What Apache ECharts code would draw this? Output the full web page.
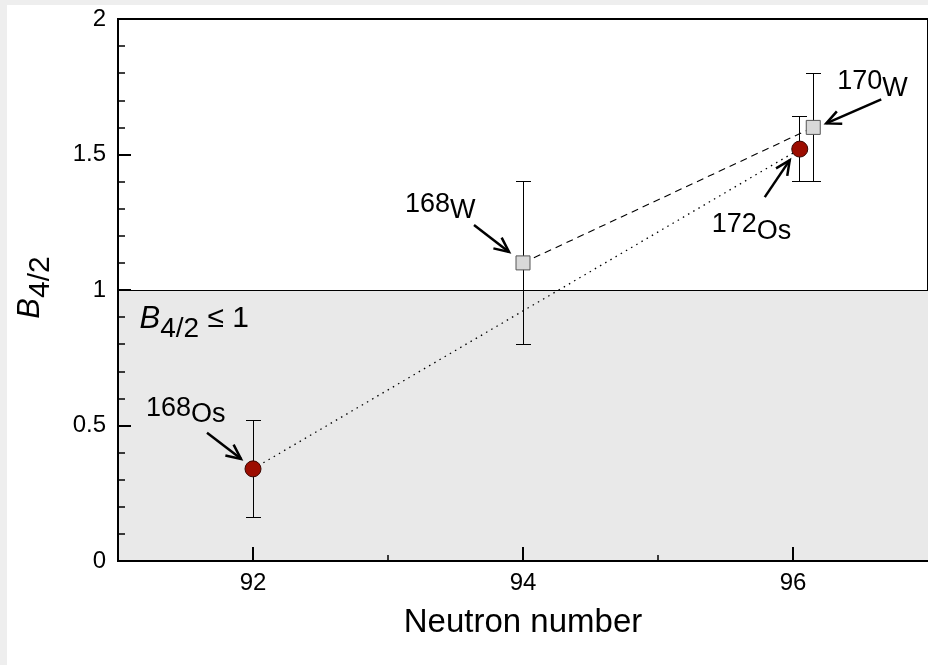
<!DOCTYPE html>
<html>
<head>
<meta charset="utf-8">
<script src="https://cdn.jsdelivr.net/npm/echarts@6/dist/echarts.min.js"></script>
<style>
html, body { margin: 0; padding: 0; background: #eeeeee; width: 928px; height: 665px; overflow: hidden; }
#chart { position: absolute; left: 7px; top: 5px; width: 921px; height: 660px; background: #ffffff; }
</style>
</head>
<body>
<div id="chart"></div>
<script>
// ---- data ----
const osN = [92, 96.05];
const osB = [0.34, 1.52];
const osErrLo = [0.16, 1.40];
const osErrHi = [0.52, 1.64];
const osMass = ['168', '172'];

const wN = [94, 96.15];
const wB = [1.10, 1.60];
const wErrLo = [0.80, 1.40];
const wErrHi = [1.40, 1.80];
const wMass = ['168', '170'];

const xRange = [91, 97];
const yRange = [0, 2];
const xTickValues = [92, 94, 96];
const xMinorValues = [93, 95];
const bandRange = [0, 1];

// ---- build ----
const FONT = '"Liberation Sans", Arial, Helvetica, sans-serif';
const osPts = osN.map((x, i) => [x, osB[i]]);
const wPts = wN.map((x, i) => [x, wB[i]]);
const errRows = osN.map((x, i) => [x, osErrLo[i], osErrHi[i]])
  .concat(wN.map((x, i) => [x, wErrLo[i], wErrHi[i]]));
const bandRows = [[xRange[0], bandRange[0], xRange[1], bandRange[1]]];

const labels = osMass.map(m => ({ mass: m, sym: 'Os' })).concat(wMass.map(m => ({ mass: m, sym: 'W' })));
const annRows = osPts.concat(wPts).map((p, k) => [p[0], p[1], k]);
// pixel offsets (style): text baseline-left, arrow tail, arrow head relative to marker
const annLayout = [
  { text: [-107, -45], tail: [-46, -36], head: [-12, -10] },  // 168Os
  { text: [-88, 91], tail: [-35, 48], head: [-10, 11] },      // 172Os
  { text: [-118, -43], tail: [-49, -38], head: [-14, -11] },  // 168W
  { text: [24, -30], tail: [68, -28], head: [13, -4] }        // 170W
];

const crisp = v => Math.round(v - 0.5) + 0.5;

const chart = echarts.init(document.getElementById('chart'), null, { renderer: 'canvas' });

const option = {
  animation: false,
  backgroundColor: '#ffffff',
  grid: {
    left: 111, top: 14, right: -1.5, bottom: 104,
    show: true, borderColor: '#000', borderWidth: 2, backgroundColor: 'transparent'
  },
  xAxis: [
    {
      type: 'value', min: xRange[0], max: xRange[1], position: 'bottom', z: 5,
      axisLine: { show: true, lineStyle: { color: '#000', width: 2 } },
      axisTick: { show: true, inside: true, length: 14, customValues: xTickValues, lineStyle: { color: '#000', width: 2 } },
      axisLabel: { show: true, customValues: xTickValues, fontSize: 24, color: '#000', fontFamily: FONT, margin: 10 },
      splitLine: { show: false },
      name: 'Neutron number', nameLocation: 'middle', nameGap: 45,
      nameTextStyle: { fontSize: 33, color: '#000', fontFamily: FONT }
    },
    {
      type: 'value', min: xRange[0], max: xRange[1], position: 'bottom', z: 5,
      axisLine: { show: false },
      axisTick: { show: true, inside: true, length: 6, customValues: xMinorValues, lineStyle: { color: '#000', width: 1.5 } },
      axisLabel: { show: false },
      splitLine: { show: false }
    }
  ],
  yAxis: {
    type: 'value', min: yRange[0], max: yRange[1], interval: 0.5, z: 5,
    axisLine: { show: true, lineStyle: { color: '#000', width: 2 } },
    axisTick: { show: true, inside: true, length: 13, lineStyle: { color: '#000', width: 2 } },
    minorTick: { show: true, splitNumber: 5, length: 7, lineStyle: { color: '#000', width: 1.5 } },
    axisLabel: { fontSize: 24, color: '#000', fontFamily: FONT, margin: 12 },
    splitLine: { show: false },
    minorSplitLine: { show: false },
    name: '{b|B}{s|4/2}', nameLocation: 'middle', nameGap: 51,
    nameTextStyle: {
      color: '#000',
      padding: [0, 0, 0, 5],
      rich: {
        b: { fontSize: 31, fontStyle: 'italic', fontFamily: FONT, lineHeight: 20, verticalAlign: 'top', color: '#000' },
        s: { fontSize: 30, fontFamily: FONT, lineHeight: 52, color: '#000' }
      }
    }
  },
  series: [
    {
      type: 'custom', xAxisIndex: 0, z: 1, silent: true,
      data: bandRows,
      encode: { x: [0, 2], y: [1, 3] },
      renderItem: function (params, api) {
        const p0 = api.coord([api.value(0), api.value(1)]);
        const p1 = api.coord([api.value(2), api.value(3)]);
        const yTop = crisp(p1[1]);
        return {
          type: 'group',
          children: [
            { type: 'rect', shape: { x: p0[0], y: p1[1], width: p1[0] - p0[0], height: p0[1] - p1[1] }, style: { fill: '#e9e9e9' } },
            { type: 'line', shape: { x1: p0[0], y1: yTop, x2: p1[0], y2: yTop }, style: { stroke: '#000', lineWidth: 1 } },
            {
              type: 'text', x: p0[0] + 21.5, y: p1[1] + 14,
              style: {
                text: '{b|B}{s|4/2}{t| ≤ 1}', align: 'left', verticalAlign: 'top', fill: '#000',
                rich: {
                  b: { fontSize: 31, fontStyle: 'italic', fontFamily: FONT, lineHeight: 20, verticalAlign: 'top', fill: '#000' },
                  s: { fontSize: 28, fontFamily: FONT, lineHeight: 50, fill: '#000' },
                  t: { fontSize: 30, fontFamily: FONT, lineHeight: 20, verticalAlign: 'top', fill: '#000' }
                }
              }
            }
          ]
        };
      }
    },
    {
      type: 'custom', xAxisIndex: 0, z: 2, silent: true,
      data: errRows,
      encode: { x: 0, y: [1, 2] },
      renderItem: function (params, api) {
        const x = api.value(0);
        const top = api.coord([x, api.value(2)]);
        const bot = api.coord([x, api.value(1)]);
        const cx = crisp(top[0]);
        const ty = crisp(top[1]), by = crisp(bot[1]);
        const c = 7.5;
        const st = { stroke: '#000', lineWidth: 1 };
        return {
          type: 'group',
          children: [
            { type: 'line', shape: { x1: cx, y1: ty, x2: cx, y2: by }, style: st },
            { type: 'line', shape: { x1: cx - c, y1: ty, x2: cx + c, y2: ty }, style: st },
            { type: 'line', shape: { x1: cx - c, y1: by, x2: cx + c, y2: by }, style: st }
          ]
        };
      }
    },
    {
      type: 'line', xAxisIndex: 0, z: 3, silent: true,
      data: osPts,
      symbol: 'circle', symbolSize: 16,
      itemStyle: { color: '#9c0c00', borderColor: '#3a0500', borderWidth: 1 },
      lineStyle: { color: '#000', width: 1.3, type: [1.5, 4.5] }
    },
    {
      type: 'line', xAxisIndex: 0, z: 3, silent: true,
      data: wPts,
      symbol: 'rect', symbolSize: 14,
      itemStyle: { color: '#d8d8d8', borderColor: '#555', borderWidth: 1 },
      lineStyle: { color: '#000', width: 1.1, type: [7, 5] }
    },
    {
      type: 'custom', xAxisIndex: 0, z: 10, silent: true,
      data: annRows,
      encode: { x: 0, y: 1 },
      renderItem: function (params, api) {
        const p = api.coord([api.value(0), api.value(1)]);
        const k = api.value(2);
        const L = annLayout[k];
        const lab = labels[k];
        const T = [p[0] + L.tail[0], p[1] + L.tail[1]];
        const H = [p[0] + L.head[0], p[1] + L.head[1]];
        const dx = H[0] - T[0], dy = H[1] - T[1];
        const len = Math.sqrt(dx * dx + dy * dy);
        const ux = -dx / len, uy = -dy / len;
        const a = 25 * Math.PI / 180, wl = 16;
        const w1 = [H[0] + wl * (ux * Math.cos(a) - uy * Math.sin(a)), H[1] + wl * (ux * Math.sin(a) + uy * Math.cos(a))];
        const w2 = [H[0] + wl * (ux * Math.cos(-a) - uy * Math.sin(-a)), H[1] + wl * (ux * Math.sin(-a) + uy * Math.cos(-a))];
        const st = { stroke: '#000', lineWidth: 2.5, fill: null, lineJoin: 'miter' };
        return {
          type: 'group',
          children: [
            { type: 'line', shape: { x1: T[0], y1: T[1], x2: H[0], y2: H[1] }, style: st },
            { type: 'polyline', shape: { points: [w1, H, w2] }, style: st },
            {
              type: 'text',
              x: p[0] + L.text[0], y: p[1] + L.text[1] + 11,
              style: {
                text: '{a|' + lab.mass + '}{b|' + lab.sym + '}',
                align: 'left', verticalAlign: 'bottom', fill: '#000',
                rich: {
                  a: { fontSize: 27, fontFamily: FONT, lineHeight: 12, verticalAlign: 'top', fill: '#000' },
                  b: { fontSize: 27, fontFamily: FONT, lineHeight: 40, fill: '#000' }
                }
              }
            }
          ]
        };
      }
    }
  ]
};

chart.setOption(option);
</script>
</body>
</html>
